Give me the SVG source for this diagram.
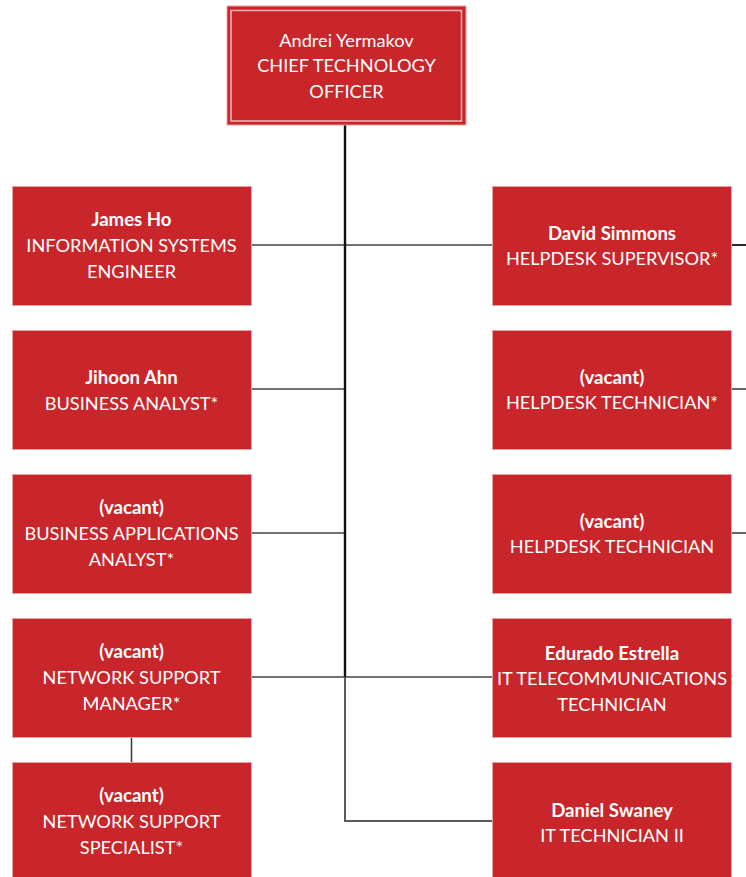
<svg xmlns="http://www.w3.org/2000/svg" width="746" height="877" viewBox="0 0 746 877">
<style>
.box{fill:#C8262A;stroke:#E9A3A3;stroke-width:1}
.inner{fill:none;stroke:#F2B8B8;stroke-width:1.5}
text{font-family:Lato,"Open Sans","Liberation Sans",sans-serif;font-size:18.2px;fill:#FFFFFF;text-anchor:middle}
.b{font-weight:bold;font-size:18.6px}
.ln{stroke:#404040;stroke-width:1.6;fill:none}
.trunk{stroke:#111111;stroke-width:2.4;fill:none}
.trunk2{stroke:#5a5a5a;stroke-width:2;fill:none}
</style>
<rect width="746" height="877" fill="#FFFFFF"/>
<g id="connectors">
<line class="ln" x1="251" y1="245" x2="492" y2="245"/>
<line class="ln" x1="251" y1="389" x2="345" y2="389"/>
<line class="ln" x1="251" y1="533" x2="345" y2="533"/>
<line class="ln" x1="251" y1="677" x2="492" y2="677"/>
<polyline class="trunk2" points="345,677 345,821 492,821"/>
<line class="trunk" x1="345" y1="125" x2="345" y2="677"/>
<line class="ln" x1="131.5" y1="737" x2="131.5" y2="762"/>
<line class="trunk" x1="732" y1="245" x2="746" y2="245" style="stroke-width:1.8"/>
<line class="ln" x1="732" y1="389" x2="746" y2="389"/>
<line class="ln" x1="732" y1="533" x2="746" y2="533"/>
</g>
<g id="cto">
<rect class="box" x="227" y="6" width="239" height="119"/>
<rect class="inner" x="231" y="10.5" width="230.5" height="110.5"/>
<text x="346.5" y="47">Andrei Yermakov</text>
<text x="346.5" y="72">CHIEF TECHNOLOGY</text>
<text x="346.5" y="98">OFFICER</text>
</g>
<g id="james-ho">
<rect class="box" x="12.5" y="186.5" width="239" height="119"/>
<text class="b" x="131.5" y="226">James Ho</text>
<text x="131.5" y="252">INFORMATION SYSTEMS</text>
<text x="131.5" y="278">ENGINEER</text>
</g>
<g id="jihoon-ahn">
<rect class="box" x="12.5" y="330.5" width="239" height="119"/>
<text class="b" x="131.5" y="384">Jihoon Ahn</text>
<text x="131.5" y="410">BUSINESS ANALYST*</text>
</g>
<g id="business-applications-analyst">
<rect class="box" x="12.5" y="474.5" width="239" height="119"/>
<text class="b" x="131.5" y="514">(vacant)</text>
<text x="131.5" y="540">BUSINESS APPLICATIONS</text>
<text x="131.5" y="566">ANALYST*</text>
</g>
<g id="network-support-manager">
<rect class="box" x="12.5" y="618.5" width="239" height="119"/>
<text class="b" x="131.5" y="658">(vacant)</text>
<text x="131.5" y="684">NETWORK SUPPORT</text>
<text x="131.5" y="710">MANAGER*</text>
</g>
<g id="network-support-specialist">
<rect class="box" x="12.5" y="762.5" width="239" height="119"/>
<text class="b" x="131.5" y="802">(vacant)</text>
<text x="131.5" y="828">NETWORK SUPPORT</text>
<text x="131.5" y="854">SPECIALIST*</text>
</g>
<g id="david-simmons">
<rect class="box" x="492.5" y="186.5" width="239" height="119"/>
<text class="b" x="612" y="240">David Simmons</text>
<text x="612" y="265">HELPDESK SUPERVISOR*</text>
</g>
<g id="helpdesk-technician-1">
<rect class="box" x="492.5" y="330.5" width="239" height="119"/>
<text class="b" x="612" y="384">(vacant)</text>
<text x="612" y="409">HELPDESK TECHNICIAN*</text>
</g>
<g id="helpdesk-technician-2">
<rect class="box" x="492.5" y="474.5" width="239" height="119"/>
<text class="b" x="612" y="528">(vacant)</text>
<text x="612" y="553">HELPDESK TECHNICIAN</text>
</g>
<g id="edurado-estrella">
<rect class="box" x="492.5" y="618.5" width="239" height="119"/>
<text class="b" x="612" y="660">Edurado Estrella</text>
<text x="612" y="685">IT TELECOMMUNICATIONS</text>
<text x="612" y="711">TECHNICIAN</text>
</g>
<g id="daniel-swaney">
<rect class="box" x="492.5" y="762.5" width="239" height="119"/>
<text class="b" x="612" y="817">Daniel Swaney</text>
<text x="612" y="842">IT TECHNICIAN II</text>
</g>
</svg>
